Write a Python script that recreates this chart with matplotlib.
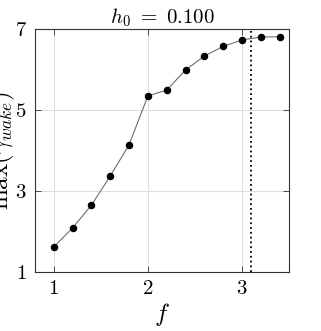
import matplotlib
matplotlib.use("Agg")
import matplotlib.pyplot as plt

plt.rcParams['mathtext.fontset'] = 'cm'
plt.rcParams['font.family'] = 'serif'
plt.rcParams['font.serif'] = ['cmr10', 'DejaVu Serif']
plt.rcParams['axes.unicode_minus'] = False

# data
f_vals = [1.0, 1.2, 1.4, 1.6, 1.8, 2.0, 2.2, 2.4, 2.6, 2.8, 3.0, 3.2, 3.4]
gamma_max = [1.62, 2.09, 2.65, 3.37, 4.14, 5.35, 5.49, 5.99, 6.33, 6.57, 6.73, 6.80, 6.81]
f_crit = 3.1
x_ticks = [1, 2, 3]
y_ticks = [1, 3, 5, 7]

fig = plt.figure(figsize=(3.21, 3.31), dpi=100)
ax = fig.add_axes([35 / 321, 1 - 272 / 331, 254 / 321, 243 / 331])

ax.plot(f_vals, gamma_max, color='#6e6e6e', lw=0.8, zorder=2)
ax.plot(f_vals, gamma_max, 'o', color='black', ms=4.4, zorder=3)
ax.axvline(f_crit, color='black', ls=':', lw=1.3, zorder=2)

ax.set_xlim(0.8, 3.5)
ax.set_ylim(1, 7)
ax.set_xticks(x_ticks)
ax.set_yticks(y_ticks)
ax.set_xticklabels(['$%d$' % t for t in x_ticks], fontsize=15)
ax.set_yticklabels(['$%d$' % t for t in y_ticks], fontsize=15)
ax.grid(True, color='#dedede', lw=0.8)
ax.set_axisbelow(True)
ax.tick_params(direction='in', length=4, width=0.6, color='#333333',
               top=True, right=True, pad=6)
for s in ax.spines.values():
    s.set_color('#333333')
    s.set_linewidth(0.8)

ax.set_xlabel('$f$', fontsize=18, labelpad=2)
ax.set_ylabel(r'$\max(\gamma_{wake})$', fontsize=18)
ax.yaxis.set_label_coords(-0.071, 0.5)
ax.set_title(r'$h_0\ =\ 0.100$', fontsize=15, pad=4)

fig.savefig('out.png', dpi=100)
